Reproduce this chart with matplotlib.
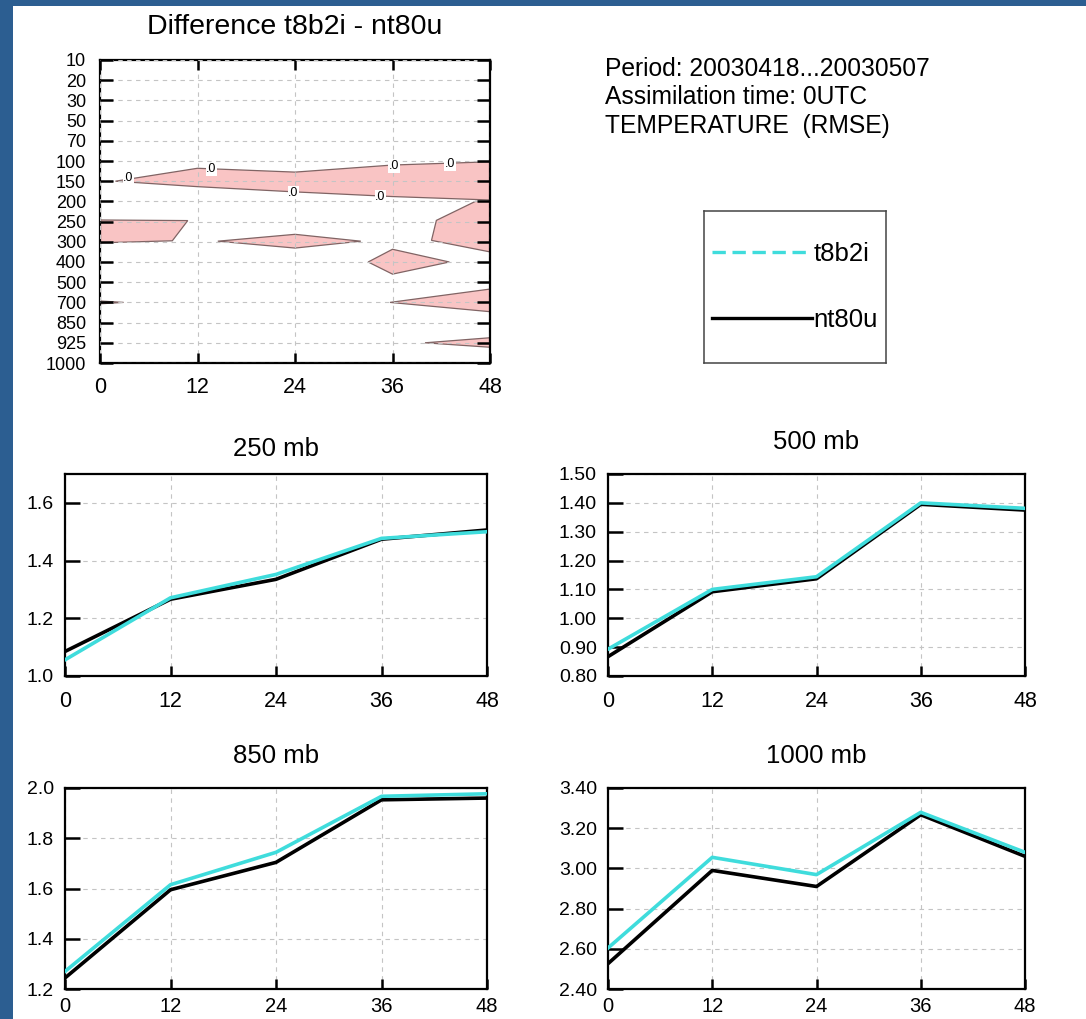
import matplotlib
matplotlib.use('Agg')
import matplotlib.pyplot as plt
from matplotlib.patches import Rectangle, Polygon
from matplotlib.lines import Line2D
import numpy as np

plt.rcParams.update({
    'font.family': ['Liberation Sans', 'DejaVu Sans'],
    'axes.linewidth': 1.6,
})

BLUE = '#2c5e91'
CYAN = '#3fdcdc'
PINK = '#f9c4c4'
EDGE = '#806464'
GRID = '#c4c4c4'

# ─── Data ─────────────────────────────────────────────────────

hours = [0, 12, 24, 36, 48]
levels = ['10', '20', '30', '50', '70', '100', '150', '200', '250',
          '300', '400', '500', '700', '850', '925', '1000']

# zero contour regions (positive difference), vertices as (hour, level index)
diff_regions = [
    [(1.9, 6.0), (12, 5.36), (24, 5.55), (36, 5.2), (48, 5.04),
     (48, 6.93), (36, 6.76), (24, 6.53), (12, 6.27)],
    [(0, 7.92), (10.8, 7.95), (8.9, 8.95), (0, 9.05)],
    [(14.5, 8.97), (24, 8.63), (32.1, 8.97), (24, 9.31)],
    [(33.0, 10.0), (36, 9.37), (43.0, 10.0), (36, 10.6)],
    [(46.2, 7.0), (41.4, 7.94), (40.8, 8.93), (48, 9.5), (48, 7.0)],
    [(35.7, 12.0), (48, 11.34), (48, 12.46)],
    [(40.0, 14.0), (48, 13.75), (48, 14.22)],
    [(0, 11.93), (2.9, 12.0), (0, 12.07)],
]
zero_labels = [(3.5, 5.83), (13.7, 5.41), (23.8, 6.57),
               (36.2, 5.25), (43.1, 5.15), (34.5, 6.77)]

panel_names = ['250 mb', '500 mb', '850 mb', '1000 mb']
t8b2i = [
    [1.056, 1.271, 1.352, 1.477, 1.500],
    [0.893, 1.100, 1.144, 1.400, 1.381],
    [1.270, 1.615, 1.744, 1.967, 1.977],
    [2.604, 3.055, 2.969, 3.279, 3.080],
]
nt80u = [
    [1.085, 1.266, 1.335, 1.474, 1.506],
    [0.867, 1.092, 1.137, 1.395, 1.375],
    [1.244, 1.595, 1.704, 1.953, 1.960],
    [2.526, 2.990, 2.910, 3.267, 3.060],
]
ylims = [(1.0, 1.7), (0.8, 1.5), (1.2, 2.0), (2.4, 3.4)]
ysteps = [0.2, 0.1, 0.2, 0.2]
yfmts = ['{:.1f}', '{:.2f}', '{:.1f}', '{:.2f}']

info_lines = ['Period: 20030418...20030507',
              'Assimilation time: 0UTC',
              'TEMPERATURE  (RMSE)']

# ─── Figure ───────────────────────────────────────────────────

W, H = 1086, 1019
fig = plt.figure(figsize=(W / 100, H / 100), dpi=100, facecolor=BLUE)
fig.patches.append(Rectangle((13 / W, 0), 1, 1 - 6 / H, transform=fig.transFigure,
                             facecolor='white', edgecolor='none', zorder=-10))


def px_axes(x0, y0, x1, y1):
    return fig.add_axes([x0 / W, 1 - y1 / H, (x1 - x0) / W, (y1 - y0) / H])


# Contour difference panel
ax = px_axes(100, 60, 490, 363)
for reg in diff_regions:
    ax.add_patch(Polygon(reg, closed=True, facecolor=PINK, edgecolor=EDGE,
                         lw=0.9, zorder=1))
for lx, ly in zero_labels:
    ax.text(lx, ly, '.0', fontsize=9, ha='center', va='center', zorder=5,
            bbox=dict(boxstyle='square,pad=0.05', fc='white', ec='none'))
ax.set_xlim(0, 48)
ax.set_ylim(len(levels) - 1, 0)
ax.set_xticks(hours)
ax.set_xticklabels([str(h) for h in hours], fontsize=15.5)
ax.set_yticks(range(len(levels)))
ax.set_yticklabels(levels, fontsize=13)
ax.tick_params(axis='y', direction='in', length=9.5, width=1.8, pad=10,
               left=True, right=True)
ax.tick_params(axis='x', direction='in', length=7, width=1.8, pad=10,
               top=True, bottom=True)
ax.set_axisbelow(False)
ax.grid(True, color=GRID, ls=(0, (4, 4)), lw=0.8)
ax.set_title('Difference t8b2i - nt80u', fontsize=20.5, pad=19)

# Info text
for i, line in enumerate(info_lines):
    fig.text(605 / W, 1 - (76 + i * 28.3) / H, line, fontsize=17.7,
             ha='left', va='baseline')

# Line panels
boxes = [(65, 474, 487, 676), (608, 474, 1025, 676),
         (65, 788, 487, 989), (608, 788, 1025, 989)]
title_pads = [13, 18, 18, 18]
xpads = [11, 11, 5.5, 5.5]
xsizes = [15.5, 15.5, 14.5, 14.5]
for k in range(4):
    a = px_axes(*boxes[k])
    a.plot(hours, nt80u[k], color='black', lw=2.6, zorder=3)
    a.plot(hours, t8b2i[k], color=CYAN, lw=2.6, zorder=4)
    lo, hi = ylims[k]
    ticks = np.arange(lo, hi + 1e-6, ysteps[k])
    a.set_ylim(lo, hi)
    a.set_yticks(ticks)
    a.set_yticklabels([yfmts[k].format(t) for t in ticks], fontsize=14)
    a.set_xlim(0, 48)
    a.set_xticks(hours)
    a.set_xticklabels([str(h) for h in hours], fontsize=xsizes[k])
    a.tick_params(axis='y', direction='in', length=11, width=1.8, pad=8)
    a.tick_params(axis='x', direction='in', length=7, width=1.8, pad=xpads[k])
    a.grid(True, color=GRID, ls=(0, (4, 4)), lw=0.8)
    a.set_title(panel_names[k], fontsize=18.5, pad=title_pads[k])

# Legend box
lax = px_axes(704, 211, 886, 363)
lax.set_xticks([])
lax.set_yticks([])
for s in lax.spines.values():
    s.set_linewidth(1.1)
    s.set_color('#444444')
handles = [Line2D([], [], color=CYAN, lw=2.4, ls=(0, (4, 2))),
           Line2D([], [], color='black', lw=2.4)]
lax.legend(handles, ['t8b2i', 'nt80u'], loc='center', frameon=False,
           fontsize=18.5, handlelength=3.9, handletextpad=0.05,
           labelspacing=1.6, borderaxespad=0)

fig.savefig('out.png', dpi=100, facecolor=fig.get_facecolor())
